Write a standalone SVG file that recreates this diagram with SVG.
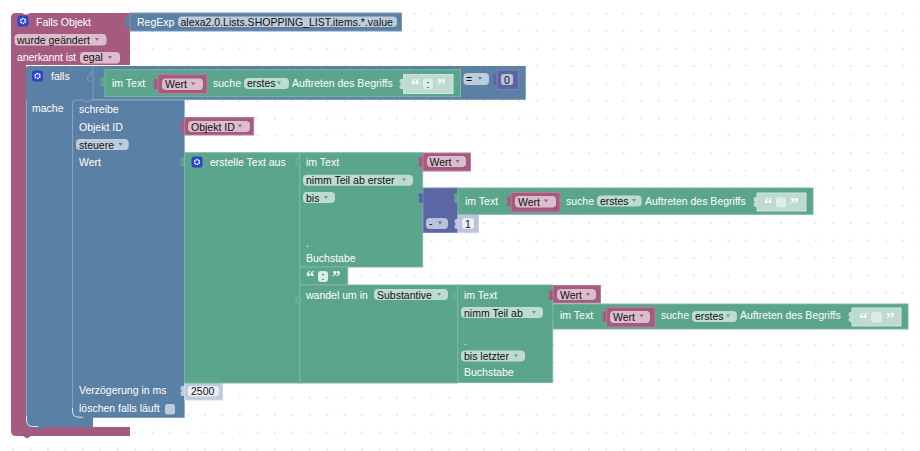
<svg xmlns="http://www.w3.org/2000/svg" width="920" height="451" viewBox="0 0 920 451">
<style>
text{font-family:"Liberation Sans",Arial,sans-serif;font-size:10.5px}
.w{fill:#fff}.k{fill:#111}.q{fill:#fff;font-family:"Liberation Serif",serif;font-size:17px;font-weight:bold}
.pk{fill:#a55b80;stroke:#b97c9b;stroke-width:1}
.bl{fill:#5b80a5;stroke:#7c99b7;stroke-width:1}
.gr{fill:#5ba58c;stroke:#7cb7a3;stroke-width:1}
.pu{fill:#5b67a5;stroke:#7c85b7;stroke-width:1}
.gs{fill:#bddbd1;stroke:#cfe5dd;stroke-width:1}
.bs{fill:#bdccdb;stroke:#cfdbe6;stroke-width:1}
.ps{fill:#bdc2db;stroke:#cfd3e6;stroke-width:1}
.fp{fill:#dbbdcc}.fg{fill:#bddbd1}.fb{fill:#bdccdb}.fu{fill:#bdc2db}.ft{fill:#eceef6}.fs{fill:#dcece6}
.tp{fill:#a55b80}.tb{fill:#5b80a5}.tg{fill:#5ba58c}.tu{fill:#5b67a5}.tgs{fill:#bddbd1}.tbs{fill:#bdccdb}.tps{fill:#bdc2db}
.ap{fill:#a55b80}.ag{fill:#5ba58c}.ab{fill:#5b80a5}.au{fill:#5b67a5}
.hl{fill:none;stroke:#fff;stroke-width:1}
</style>
<defs>
<pattern id="grid" x="12.200" y="12.700" width="17.450" height="17.450" patternUnits="userSpaceOnUse"><rect width="1.600" height="1.600" fill="#dedede"/></pattern>
<path id="tab" d="M1 -5 H-1.500 Q-3.500 -5 -3.500 -3 V-2 Q-3.500 -1 -2 0 Q-3.500 1 -3.500 2 V3 Q-3.500 5 -1.500 5 H1 Z"/>
<path id="arr" d="M-2 -1.500 H2 L0 1.500 Z"/>
<g id="gear"><rect width="11" height="11" rx="2.500" fill="#2a45c8"/><circle cx="5.500" cy="5.500" r="2.400" fill="none" stroke="#fff" stroke-width="1.600" stroke-dasharray="1.600 .7"/></g>
</defs>
<rect width="920" height="451" fill="#fff"/>
<rect width="920" height="451" fill="url(#grid)"/>

<g id="falls-objekt">
<path class="pk" style="stroke:none" d="M11 18Q11 13 16 13H22Q26 16 30 13H130V65H26V427H130V436H31L27 438.500L23 436H16Q11 436 11 431Z"/>
<use href="#gear" x="17.500" y="15.500"/>
<text class="w" x="36" y="25.500" textLength="55">Falls Objekt</text>
<rect class="fp" x="14.500" y="34" width="92" height="11.500" rx="4"/><text class="k" x="17" y="43.500">wurde geändert</text><use href="#arr" class="ap" x="97" y="39.500"/>
<text class="w" x="17" y="60.500" textLength="59">anerkannt ist</text>
<rect class="fp" x="80" y="52" width="40" height="11.500" rx="4"/><text class="k" x="83" y="61">egal</text><use href="#arr" class="ap" x="110" y="57.500"/>
</g>

<g id="regexp">
<use href="#tab" class="tb" x="128.500" y="22"/>
<rect class="bl" x="130" y="13" width="271.500" height="18"/>
<text class="w" x="137" y="25.500">RegExp</text>
<rect class="fb" x="178" y="16.500" width="219" height="10.500" rx="4"/>
<text class="k" x="180.500" y="25.500">alexa2.0.Lists.SHOPPING_LIST.items.*.value</text>
</g>

<g id="falls">
<path class="bl" style="stroke:none" d="M26 68Q26 66 28 66H525.700V99.700H93V427H46L41 429.500L36 427H26Z"/>
<path d="M93 66V100" stroke="#7c99b7" fill="none"/>
<path d="M26.500 100V416" class="hl" style="stroke:#88a3be"/>
<path d="M26.500 416V420Q26.500 426.500 33 426.500H38" class="hl" style="stroke:#dfe7ef"/>
<use href="#gear" x="32" y="70.500"/>
<text class="w" x="51" y="79.500">falls</text>
<text class="w" x="32" y="111.500">mache</text>
<path d="M90.500 71V75Q87.500 76 87.500 78V79Q87.500 81 90.500 81" fill="none" stroke="#7c99b7"/>
</g>

<g id="im-text-1">
<use href="#tab" class="tg" x="104" y="82"/>
<rect class="gr" x="105" y="69.700" width="355.500" height="27"/>
<text class="w" x="112" y="86.500">im Text</text>
<use href="#tab" class="tp" x="157" y="84"/>
<rect class="pk" x="158" y="74.500" width="49" height="19"/>
<rect class="fp" x="162" y="78.500" width="41" height="11.500" rx="4"/><text class="k" x="165" y="87.500">Wert</text><use href="#arr" class="ap" x="193" y="84"/>
<text class="w" x="213" y="86.500">suche</text>
<rect class="fg" x="244" y="78" width="45" height="11" rx="4"/><text class="k" x="247" y="87">erstes</text><use href="#arr" class="ag" x="279" y="83"/>
<text class="w" x="292" y="86.500">Auftreten des Begriffs</text>
<use href="#tab" class="tgs" x="403" y="84"/>
<rect class="gs" x="403.500" y="74.500" width="49.500" height="19"/>
<text class="q" x="411" y="90">“</text><rect class="fs" x="423" y="78.500" width="10" height="11" rx="3"/><text class="k" x="426.500" y="87.500">:</text><text class="q" x="437" y="90">”</text>
</g>

<g id="vergleich">
<rect class="fb" x="463.500" y="73" width="25.500" height="12" rx="4"/><text class="k" x="466" y="82.500">=</text><use href="#arr" class="ab" x="480" y="78.500"/>
<use href="#tab" class="tu" x="496.500" y="80"/>
<rect class="pu" x="497" y="70" width="21.500" height="19.500"/>
<rect class="fu" x="501" y="74" width="12" height="11" rx="3"/><text class="k" x="504" y="83.500">0</text>
</g>

<g id="schreibe">
<path class="bl" style="stroke:none" d="M72 103Q72 100 75 100H82Q86.500 104 91 100H184.600V417.700H92L87 419.500L82 417.700H72Z"/>
<path class="hl" style="stroke:#88a3be" d="M72.500 408V104Q72.500 100 76 100H82Q86.500 104 91 100H184"/>
<path class="hl" style="stroke:#dfe7ef" d="M72.500 408V411Q72.500 417.200 79 417.200H83"/>
<text class="w" x="79" y="113">schreibe</text>
<text class="w" x="79" y="130.500">Objekt ID</text>
<rect class="fb" x="76" y="139" width="52.700" height="11" rx="4"/><text class="k" x="79" y="148.500">steuere</text><use href="#arr" class="ab" x="120.500" y="144.500"/>
<text class="w" x="79" y="165.500">Wert</text>
<text class="w" x="79" y="394">Verzögerung in ms</text>
<text class="w" x="79" y="411.500">löschen falls läuft</text>
<rect class="fb" x="165" y="404" width="10" height="10.500" rx="2.500"/>
</g>

<g id="objekt-id">
<use href="#tab" class="tp" x="183.500" y="126.500"/>
<rect class="pk" x="184.600" y="117.500" width="69" height="17.500"/>
<rect class="fp" x="188" y="121" width="62" height="11" rx="4"/><text class="k" x="191" y="130.500">Objekt ID</text><use href="#arr" class="ap" x="240" y="126"/>
</g>

<g id="verzoegerung">
<use href="#tab" class="tbs" x="184" y="391"/>
<rect class="bs" x="184.600" y="382" width="38" height="18"/>
<rect class="ft" x="188" y="386" width="31" height="10.500" rx="3"/><text class="k" x="191" y="395">2500</text>
</g>

<g id="erstelle-text">
<use href="#tab" class="tg" x="184" y="162"/>
<rect class="gr" x="184.600" y="152.700" width="115" height="230.300"/>
<use href="#gear" x="191.500" y="156.500"/>
<text class="w" x="210" y="165.500">erstelle Text aus</text>
<path d="M299.500 157.500Q296 158 296 161V163Q296 165 299.500 166M299.500 292V296Q296 297 296 299V301Q296 303 299.500 303" fill="none" stroke="#7cb7a3"/>
</g>

<g id="text-teil">
<rect class="gr" x="299.700" y="152.700" width="123" height="114.300"/>
<text class="w" x="306" y="165.500">im Text</text>
<rect class="fg" x="303" y="174.700" width="110" height="11" rx="4"/><text class="k" x="306" y="184">nimm Teil ab erster</text><use href="#arr" class="ag" x="404" y="180"/>
<rect class="fg" x="303" y="192" width="32" height="11" rx="4"/><text class="k" x="306" y="201.500">bis</text><use href="#arr" class="ag" x="326" y="197.500"/>
<text class="w" x="306" y="247">.</text>
<text class="w" x="306" y="262">Buchstabe</text>
</g>

<g id="wert-1">
<use href="#tab" class="tp" x="422" y="162"/>
<rect class="pk" x="423" y="153" width="47.500" height="18"/>
<rect class="fp" x="427" y="156" width="39" height="11" rx="4"/><text class="k" x="429.500" y="165.500">Wert</text><use href="#arr" class="ap" x="457.500" y="161.500"/>
</g>

<g id="minus">
<use href="#tab" class="tu" x="422" y="198"/>
<rect class="pu" x="423" y="188" width="35" height="44.500"/>
<rect class="fu" x="426" y="218" width="22" height="11" rx="4"/><text class="k" x="429" y="227">-</text><use href="#arr" class="au" x="440" y="223"/>
<use href="#tab" class="tps" x="458" y="224"/>
</g>
<g id="eins">
<rect class="ps" x="458" y="214.700" width="20.500" height="18"/>
<rect class="ft" x="462" y="218" width="12" height="11" rx="3"/><text class="k" x="465" y="227.500">1</text>
</g>

<g id="im-text-2">
<use href="#tab" class="tg" x="457.500" y="198"/>
<rect class="gr" x="458" y="188" width="355" height="26.300"/>
<text class="w" x="465" y="204.500">im Text</text>
<use href="#tab" class="tp" x="510.500" y="201.500"/>
<rect class="pk" x="511" y="192.500" width="49" height="19.500"/>
<rect class="fp" x="515" y="196" width="41" height="11.500" rx="4"/><text class="k" x="518" y="205.500">Wert</text><use href="#arr" class="ap" x="546" y="201"/>
<text class="w" x="566" y="204.500">suche</text>
<rect class="fg" x="597" y="195.500" width="44.700" height="11" rx="4"/><text class="k" x="600" y="204.500">erstes</text><use href="#arr" class="ag" x="634" y="200.500"/>
<text class="w" x="645" y="204.500">Auftreten des Begriffs</text>
<use href="#tab" class="tgs" x="757" y="202"/>
<rect class="gs" x="757" y="193" width="49" height="18"/>
<text class="q" x="764" y="208.500">“</text><rect class="fs" x="776" y="197" width="10" height="10.500" rx="3"/><text class="q" x="790" y="208.500">”</text>
</g>

<g id="doppelpunkt">
<rect class="gr" x="299.700" y="267" width="48" height="18"/>
<text class="q" x="306" y="282">“</text><rect class="fs" x="318" y="271" width="10" height="11" rx="3"/><text class="k" x="321.500" y="280">:</text><text class="q" x="332" y="282">”</text>
</g>

<g id="wandel">
<rect class="gr" x="299.700" y="285" width="158" height="98"/>
<text class="w" x="306" y="298.500">wandel um in</text>
<rect class="fg" x="374" y="289" width="74" height="11" rx="4"/><text class="k" x="377" y="298.500">Substantive</text><use href="#arr" class="ag" x="439" y="294.500"/>
<path d="M457.500 289V293Q454 294 454 296V298Q454 300 457.500 300" fill="none" stroke="#7cb7a3"/>
</g>

<g id="text-teil-2">
<rect class="gr" x="457.700" y="285" width="95" height="97.500"/>
<text class="w" x="464" y="298.500">im Text</text>
<rect class="fg" x="461" y="307" width="82" height="11" rx="4"/><text class="k" x="464" y="316.500">nimm Teil ab</text><use href="#arr" class="ag" x="534" y="312.500"/>
<text class="w" x="464" y="345">.</text>
<rect class="fg" x="461" y="350.500" width="64" height="11" rx="4"/><text class="k" x="464" y="360">bis letzter</text><use href="#arr" class="ag" x="516" y="356"/>
<text class="w" x="464" y="376">Buchstabe</text>
</g>

<g id="wert-2">
<use href="#tab" class="tp" x="552" y="295"/>
<rect class="pk" x="553" y="285.500" width="47.500" height="17.500"/>
<rect class="fp" x="557" y="289" width="39" height="11" rx="4"/><text class="k" x="560" y="298.500">Wert</text><use href="#arr" class="ap" x="588" y="294.500"/>
</g>

<g id="im-text-3">
<use href="#tab" class="tg" x="552.500" y="314"/>
<rect class="gr" x="553" y="304" width="355" height="25"/>
<text class="w" x="560" y="319">im Text</text>
<use href="#tab" class="tp" x="606" y="316.500"/>
<rect class="pk" x="606.600" y="307.500" width="48.400" height="19.500"/>
<rect class="fp" x="610" y="311" width="40" height="12" rx="4"/><text class="k" x="613" y="320.500">Wert</text><use href="#arr" class="ap" x="641.500" y="316"/>
<text class="w" x="661" y="319">suche</text>
<rect class="fg" x="692" y="311" width="45" height="11" rx="4"/><text class="k" x="695" y="320">erstes</text><use href="#arr" class="ag" x="728" y="316"/>
<text class="w" x="740" y="319">Auftreten des Begriffs</text>
<use href="#tab" class="tgs" x="852" y="317"/>
<rect class="gs" x="852" y="308" width="49" height="18"/>
<text class="q" x="859" y="323.500">“</text><rect class="fs" x="871" y="312" width="11" height="10.500" rx="3"/><text class="q" x="886" y="323.500">”</text>
</g>
</svg>
